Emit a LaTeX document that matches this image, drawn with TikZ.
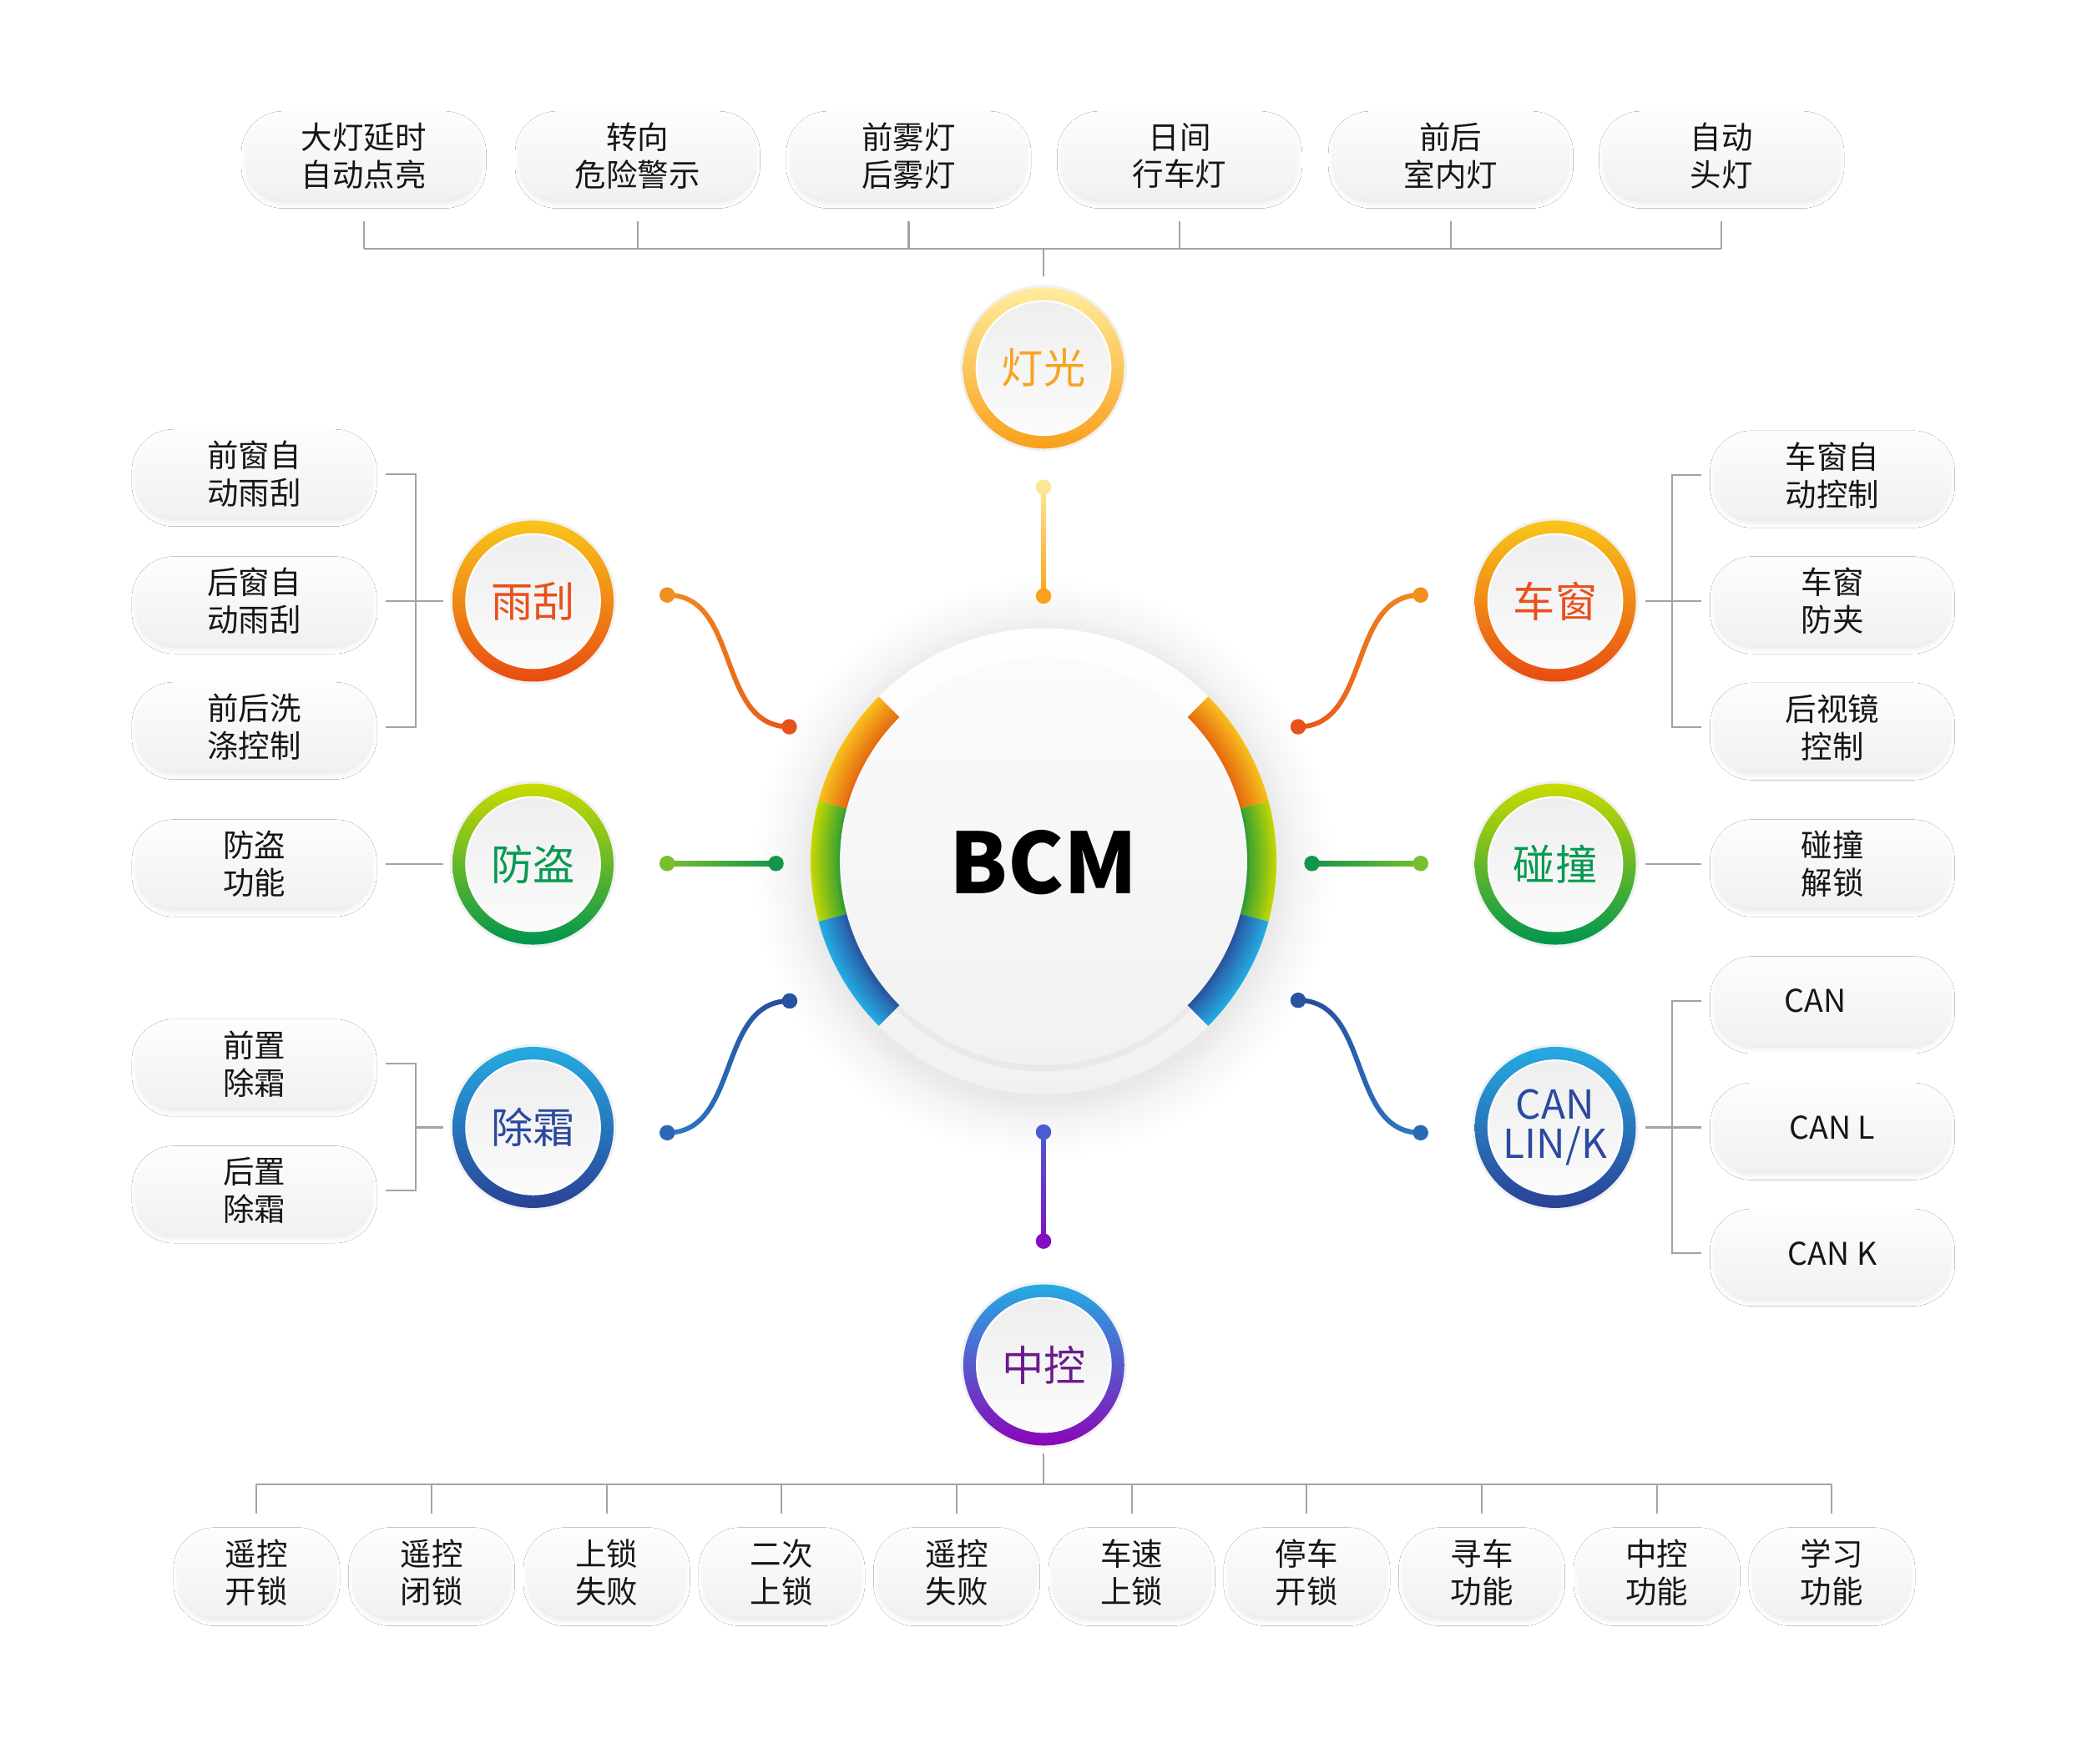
\documentclass[tikz,border=0pt]{standalone}
\usepackage{fontspec}
\setmainfont{Noto Sans CJK SC}
\usetikzlibrary{shadows.blur,fadings,calc}

\definecolor{gline}{HTML}{A3A3A3}
\definecolor{txt}{HTML}{161616}
\definecolor{pillT}{HTML}{FDFDFD}
\definecolor{pillB}{HTML}{F1F1F1}
\definecolor{diskT}{HTML}{EEEEEE}
\definecolor{diskB}{HTML}{FBFBFB}
\definecolor{haloS}{HTML}{F1F1F1}
% ring colours
\definecolor{lyTop}{HTML}{FFEC9E}
\definecolor{lyBot}{HTML}{F9A01B}
\definecolor{orTop}{HTML}{F8C61A}
\definecolor{orBot}{HTML}{E84B12}
\definecolor{grTop}{HTML}{CBDB00}
\definecolor{grBot}{HTML}{009550}
\definecolor{blTop}{HTML}{25ABE2}
\definecolor{blBot}{HTML}{2A4195}
\definecolor{puTop}{HTML}{25ABE2}
\definecolor{puBot}{HTML}{8A06B8}
% label colours
\definecolor{lyTxt}{HTML}{F7A41D}
\definecolor{orTxt}{HTML}{E8501C}
\definecolor{grTxt}{HTML}{079A51}
\definecolor{blTxt}{HTML}{2B4A9E}
\definecolor{puTxt}{HTML}{6B1A8C}
% BCM arc colours
\definecolor{aoOut}{HTML}{F8C01C}
\definecolor{aoIn}{HTML}{E25C0E}
\definecolor{agOut}{HTML}{C6D800}
\definecolor{agIn}{HTML}{1F983C}
\definecolor{abOut}{HTML}{24ADE3}
\definecolor{abIn}{HTML}{2B4A9A}
\definecolor{haloA}{HTML}{E9E9E9}
\definecolor{haloB}{HTML}{F5F5F5}
\definecolor{ringB}{HTML}{F1F1F1}
\definecolor{bdT}{HTML}{FBFBFB}
\definecolor{bdB}{HTML}{F1F1F1}
% connector colours
\definecolor{cly1}{HTML}{FDE796}
\definecolor{cly2}{HTML}{F9A11B}
\definecolor{cor1}{HTML}{F0901E}
\definecolor{cor2}{HTML}{E8521A}
\definecolor{cgr1}{HTML}{78BE2D}
\definecolor{cgr2}{HTML}{14964A}
\definecolor{cbl1}{HTML}{2C80C6}
\definecolor{cbl2}{HTML}{2A4699}
\definecolor{cpu1}{HTML}{4B5CD0}
\definecolor{cpu2}{HTML}{8310BF}

% path bounding box corresponds to the central 50bp of a shading (radius 25bp)
\pgfdeclareradialshading{arcO}{\pgfpoint{0bp}{0bp}}{color(0bp)=(aoIn); color(21.4bp)=(aoIn); color(25bp)=(aoOut); color(50bp)=(aoOut)}
\pgfdeclareradialshading{arcG}{\pgfpoint{0bp}{0bp}}{color(0bp)=(agIn); color(21.4bp)=(agIn); color(25bp)=(agOut); color(50bp)=(agOut)}
\pgfdeclareradialshading{arcB}{\pgfpoint{0bp}{0bp}}{color(0bp)=(abIn); color(21.4bp)=(abIn); color(25bp)=(abOut); color(50bp)=(abOut)}
\pgfdeclareradialshading{bcmhalo}{\pgfpoint{0bp}{0bp}}{color(0bp)=(haloA); color(20bp)=(haloA); color(22bp)=(haloB); color(25bp)=(white); color(50bp)=(white)}
\pgfdeclareradialshading{bcmdisk}{\pgfpoint{0bp}{0bp}}{color(0bp)=(bdT); color(23bp)=(bdT); color(25bp)=(bdB); color(50bp)=(bdB)}

\tikzfading[name=fadeR, left color=transparent!100, right color=transparent!0]

\tikzset{
  gl/.style={draw=gline, line width=1.3pt},
  pill/.style={rectangle, rounded corners=28pt, minimum width=177pt, minimum height=66pt,
    inner sep=0pt, align=center, top color=pillT, bottom color=pillB, text=txt,
    font=\fontsize{23.5}{28.2}\selectfont,
    blur shadow={shadow xshift=0pt, shadow yshift=-3pt, shadow blur radius=3.5pt, shadow opacity=8}},
  bpill/.style={pill, minimum width=118pt, minimum height=67pt},
  ringlabel/.style={circle, minimum size=121pt, inner sep=0pt, align=center,
    font=\fontsize{31.5}{31.5}\selectfont},
  conn/.style={line width=3.6pt, line cap=round},
}

\newcommand\ringnode[7]{% name, position, top colour, bottom colour, text colour, options, label
  \fill[haloS] (#2) circle (62.5);
  \shade[top color=#3, bottom color=#4] (#2) circle (60.5);
  \fill[white] (#2) circle (51);
  \shade[top color=diskT, bottom color=diskB] (#2) circle (49.6);
  \node[ringlabel, text=#5, #6] (#1) at (#2) {#7};
}

\begin{document}
\begin{tikzpicture}[x=1pt,y=1pt]
\useasboundingbox (0,0) rectangle (1568,-1325);
\fill[white] (0,0) rectangle (1568,-1325);

% ---------------- BCM centre ----------------
\coordinate (bc) at (784,-647);
\shade[shading=bcmhalo] ($(bc)+(0,-5)$) circle (218);
\shade[top color=white, bottom color=ringB] (bc) circle (175);
\foreach \sa/\ea/\sh in {135/165/arcO, 165/195/arcG, 195/225/arcB, 45/15/arcO, 15/-15/arcG, -15/-45/arcB}{
  \begin{scope}
    \clip[shift={(bc)}] (\sa:175) arc[start angle=\sa, end angle=\ea, radius=175]
       -- (\ea:150) arc[start angle=\ea, end angle=\sa, radius=150] -- cycle;
    \shade[shading=\sh] (bc) circle (175);
  \end{scope}
}
\fill[black, opacity=0.035] ($(bc)+(0,-3)$) circle (155);
\shade[top color=bdT, bottom color=bdB] (bc) circle (153);
\node[font=\bfseries\fontsize{63}{63}\selectfont, text=black] (bcm) at (784,-648) {BCM};

% ---------------- first level rings ----------------
\ringnode{dg}{784,-276.5}{lyTop}{lyBot}{lyTxt}{}{灯光}
\ringnode{yg}{400.5,-451.6}{orTop}{orBot}{orTxt}{}{雨刮}
\ringnode{fd}{400.5,-649.2}{grTop}{grBot}{grTxt}{}{防盗}
\ringnode{cs}{400.5,-847}{blTop}{blBot}{blTxt}{}{除霜}
\ringnode{cc}{1168.5,-451.6}{orTop}{orBot}{orTxt}{}{车窗}
\ringnode{pz}{1168.5,-649.2}{grTop}{grBot}{grTxt}{}{碰撞}
\ringnode{can}{1168.5,-847}{blTop}{blBot}{blTxt}{font=\fontsize{30}{29.5}\selectfont}{CAN\\LIN/K}
\ringnode{zk}{784.2,-1025.5}{puTop}{puBot}{puTxt}{}{中控}

% ---------------- coloured connectors ----------------
% 灯光
\coordinate (dgA) at (784,-366);
\coordinate (dgB) at (784,-447.8);
\shade[top color=cly1, bottom color=cly2] ($(dgA)+(-1.8,0)$) rectangle ($(dgB)+(1.8,0)$);
\fill[cly1] (dgA) circle (5.8);
\fill[cly2] (dgB) circle (5.8);
% 中控
\coordinate (zkA) at (784,-850.5);
\coordinate (zkB) at (784,-932.4);
\shade[top color=cpu1, bottom color=cpu2] ($(zkA)+(-1.8,0)$) rectangle ($(zkB)+(1.8,0)$);
\fill[cpu1] (zkA) circle (5.8);
\fill[cpu2] (zkB) circle (5.8);
% 防盗
\coordinate (fdA) at (501.3,-648.7);
\coordinate (fdB) at (583,-648.7);
\shade[left color=cgr1, right color=cgr2] ($(fdA)+(0,1.8)$) rectangle ($(fdB)+(0,-1.8)$);
\fill[cgr1] (fdA) circle (5.8);
\fill[cgr2] (fdB) circle (5.8);
% 碰撞
\coordinate (pzA) at (985.7,-648.7);
\coordinate (pzB) at (1067.3,-648.7);
\shade[left color=cgr2, right color=cgr1] ($(pzA)+(0,1.8)$) rectangle ($(pzB)+(0,-1.8)$);
\fill[cgr2] (pzA) circle (5.8);
\fill[cgr1] (pzB) circle (5.8);
% 雨刮
\coordinate (ygA) at (501.3,-447);
\coordinate (ygB) at (593,-546);
\draw[conn, cor1] (ygA) .. controls +(55,0) and +(-55,0) .. (ygB);
\draw[conn, cor2, path fading=fadeR] (ygA) .. controls +(55,0) and +(-55,0) .. (ygB);
\fill[cor1] (ygA) circle (5.8);
\fill[cor2] (ygB) circle (5.8);
% 车窗
\coordinate (ccA) at (975.3,-546);
\coordinate (ccB) at (1067.3,-447);
\draw[conn, cor2] (ccA) .. controls +(55,0) and +(-55,0) .. (ccB);
\draw[conn, cor1, path fading=fadeR] (ccA) .. controls +(55,0) and +(-55,0) .. (ccB);
\fill[cor2] (ccA) circle (5.8);
\fill[cor1] (ccB) circle (5.8);
% 除霜
\coordinate (csA) at (501.3,-851);
\coordinate (csB) at (593.3,-752);
\draw[conn, cbl1] (csA) .. controls +(55,0) and +(-55,0) .. (csB);
\draw[conn, cbl2, path fading=fadeR] (csA) .. controls +(55,0) and +(-55,0) .. (csB);
\fill[cbl1!60!cbl2] (csA) circle (5.8);
\fill[cbl2!80!cbl1] (csB) circle (5.8);
% CAN
\coordinate (cnA) at (975.3,-751.5);
\coordinate (cnB) at (1067.3,-851);
\draw[conn, cbl2] (cnA) .. controls +(55,0) and +(-55,0) .. (cnB);
\draw[conn, cbl1, path fading=fadeR] (cnA) .. controls +(55,0) and +(-55,0) .. (cnB);
\fill[cbl2!80!cbl1] (cnA) circle (5.8);
\fill[cbl1!60!cbl2] (cnB) circle (5.8);

% ---------------- top pills ----------------
\node[pill] (t1) at (273.3,-117) {大灯延时\\自动点亮};
\node[pill] (t2) at (479,-117) {转向\\危险警示};
\node[pill] (t3) at (682.7,-117) {前雾灯\\后雾灯};
\node[pill] (t4) at (886.3,-117) {日间\\行车灯};
\node[pill] (t5) at (1090,-117) {前后\\室内灯};
\node[pill] (t6) at (1293.5,-117) {自动\\头灯};

% ---------------- left pills ----------------
\node[pill] (l1) at (191,-356) {前窗自\\动雨刮};
\node[pill] (l2) at (191,-451.6) {后窗自\\动雨刮};
\node[pill] (l3) at (191,-546) {前后洗\\涤控制};
\node[pill] (l4) at (191,-649.2) {防盗\\功能};
\node[pill] (l5) at (191,-799.2) {前置\\除霜};
\node[pill] (l6) at (191,-894.4) {后置\\除霜};

% ---------------- right pills ----------------
\node[pill] (r1) at (1376.7,-357) {车窗自\\动控制};
\node[pill] (r2) at (1376.7,-451.6) {车窗\\防夹};
\node[pill] (r3) at (1376.7,-546.5) {后视镜\\控制};
\node[pill] (r4) at (1376.7,-649.2) {碰撞\\解锁};
\node[pill] (r5) at (1376.7,-752) {CAN\kern26pt};
\node[pill] (r6) at (1376.7,-847) {CAN L};
\node[pill] (r7) at (1376.7,-941.7) {CAN K};

% ---------------- bottom pills ----------------
\node[bpill] (b1) at (192.8,-1181.5) {遥控\\开锁};
\node[bpill] (b2) at (324.3,-1181.5) {遥控\\闭锁};
\node[bpill] (b3) at (455.8,-1181.5) {上锁\\失败};
\node[bpill] (b4) at (587.3,-1181.5) {二次\\上锁};
\node[bpill] (b5) at (718.8,-1181.5) {遥控\\失败};
\node[bpill] (b6) at (850.3,-1181.5) {车速\\上锁};
\node[bpill] (b7) at (981.8,-1181.5) {停车\\开锁};
\node[bpill] (b8) at (1113.3,-1181.5) {寻车\\功能};
\node[bpill] (b9) at (1244.8,-1181.5) {中控\\功能};
\node[bpill] (b10) at (1376.3,-1181.5) {学习\\功能};

% ---------------- grey tree lines ----------------
\coordinate (tbar) at (0,-187);
\foreach \n in {t1,t2,t3,t4,t5,t6} \draw[gl] ([yshift=-16pt]\n.south) -- (\n |- tbar);
\draw[gl] (t1 |- tbar) -- (t6 |- tbar);
\draw[gl] ([yshift=8pt]dg.north) -- (dg |- tbar);

\coordinate (bbar) at (0,-1115);
\foreach \i in {1,...,10} \draw[gl] ([yshift=11pt]b\i.north) -- (b\i |- bbar);
\draw[gl] (b1 |- bbar) -- (b10 |- bbar);
\draw[gl] ([yshift=-6pt]zk.south) -- (zk |- bbar);

\coordinate (lbx) at (312.5,0);
\draw[gl] ([xshift=10pt]l1.east) -- (lbx |- l1) -- (lbx |- l3) -- ([xshift=10pt]l3.east);
\draw[gl] ([xshift=10pt]l2.east) -- ([xshift=-7pt]yg.west);
\draw[gl] ([xshift=10pt]l4.east) -- ([xshift=-7pt]fd.west);
\draw[gl] ([xshift=10pt]l5.east) -- (lbx |- l5) -- (lbx |- l6) -- ([xshift=10pt]l6.east);
\draw[gl] (lbx |- cs) -- ([xshift=-7pt]cs.west);

\coordinate (rbx) at (1256,0);
\draw[gl] ([xshift=-9.5pt]r1.west) -- (rbx |- r1) -- (rbx |- r3) -- ([xshift=-9.5pt]r3.west);
\draw[gl] ([xshift=7pt]cc.east) -- ([xshift=-9.5pt]r2.west);
\draw[gl] ([xshift=7pt]pz.east) -- ([xshift=-9.5pt]r4.west);
\draw[gl] ([xshift=-9.5pt]r5.west) -- (rbx |- r5) -- (rbx |- r7) -- ([xshift=-9.5pt]r7.west);
\draw[gl] ([xshift=7pt]can.east) -- ([xshift=-9.5pt]r6.west);
\end{tikzpicture}
\end{document}
